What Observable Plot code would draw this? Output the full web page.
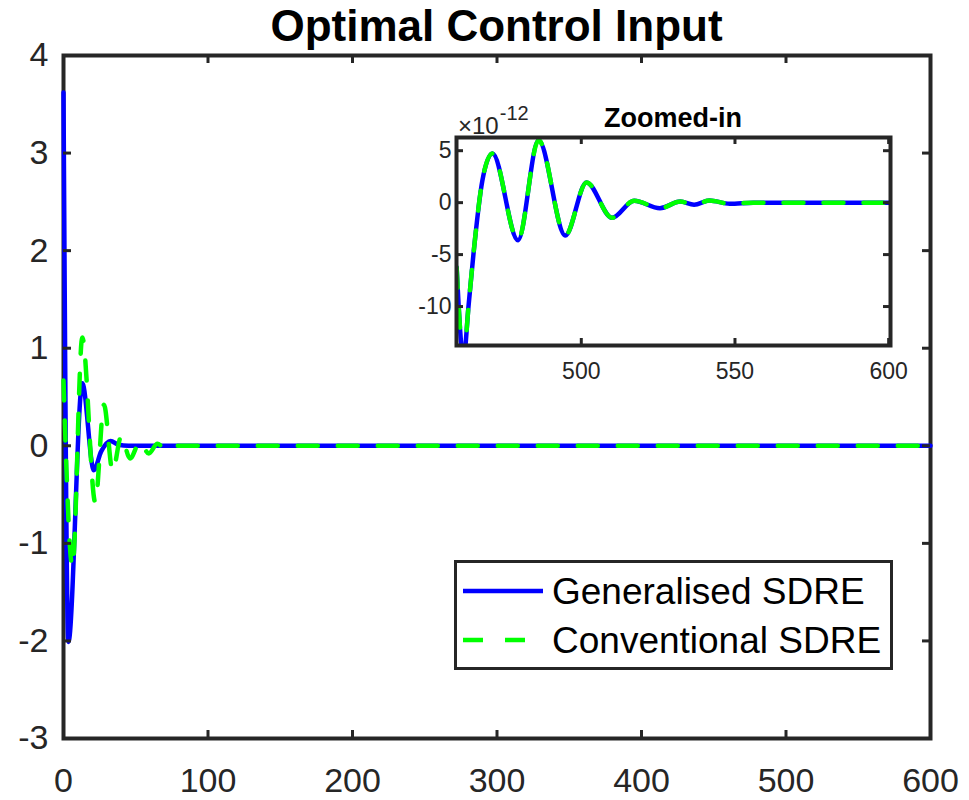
<!DOCTYPE html>
<html>
<head>
<meta charset="utf-8">
<script src="https://cdn.jsdelivr.net/npm/d3@7"></script>
<script src="https://cdn.jsdelivr.net/npm/@observablehq/plot@0.6"></script>
<style>
  html, body { margin: 0; padding: 0; background: #fff; }
  #wrap { position: relative; width: 969px; height: 800px; font-family: "Liberation Sans", Arial, Helvetica, sans-serif; color: #262626; overflow: hidden; }
  .abs { position: absolute; white-space: nowrap; line-height: 1; }
</style>
</head>
<body>
<div id="wrap"></div>
<script>
// ---------------- data ----------------
const titleText = "Optimal Control Input";
const insetTitleText = "Zoomed-in";
const seriesNames = ["Generalised SDRE", "Conventional SDRE"];
const seriesColors = ["#0000ff", "#00ff00"];

const xTicks = [0, 100, 200, 300, 400, 500, 600];
const yTicks = [-3, -2, -1, 0, 1, 2, 3, 4];

// Main plot: Generalised SDRE (blue, solid)
const genX = [0, 3.4, 13, 21, 26, 32.6, 38, 45, 600];
const genY = [3.62, -2.01, 0.64, -0.25, -0.06, 0.05, 0.01, 0, 0];

// Main plot: Conventional SDRE (green, dashed)
const convX = [0, 6.2, 13, 22, 28, 34, 40, 46, 53, 59, 65, 71, 78, 600];
const convY = [0.67, -1.24, 1.11, -0.58, 0.42, -0.26, 0.1, -0.13, 0.04, -0.08, 0.02, -0.04, 0, 0];

// Inset (values in units of 1e-12)
const insetExponent = -12;
const insetXTicks = [500, 550, 600];
const insetYTicks = [-10, -5, 0, 5];
const insetGenX = [459.45, 461.7, 463.3, 464.9, 467.8, 471.1, 479.4, 486.1, 494.8, 501.7, 510, 517.2, 525.6, 532.2, 536.7, 541.7, 548.3, 556, 600];
const insetGenY = [-6.25, -15, -10, -5, 2.1, 4.73, -3.62, 6.0, -3.16, 1.95, -1.46, 0.18, -0.53, 0.1, -0.2, 0.2, -0.1, 0, 0];
const insetConvX = [459.45, 461.7, 463.3, 464.9, 467.8, 471.1, 479.4, 486.1, 494.8, 501.7, 510, 517.2, 525.6, 532.2, 536.7, 541.7, 548.3, 556, 600];
const insetConvY = [-6.25, -15, -10, -5, 2.1, 4.73, -3.62, 6.0, -3.16, 1.95, -1.46, 0.18, -0.53, 0.1, -0.2, 0.2, -0.1, 0, 0];

// ---------------- build ----------------
const toRows = (xs, ys) => xs.map((x, i) => ({x, y: ys[i]}));
const gen = toRows(genX, genY);
const conv = toRows(convX, convY);
const iGen = toRows(insetGenX, insetGenY);
const iConv = toRows(insetConvX, insetConvY);

const ink = "#262626";
const font = '"Liberation Sans", Arial, Helvetica, sans-serif';
const fmt = d => String(d);

const W = 969, H = 800;
const mL = 63, mR = 39, mT = 55, mB = 62;
const fw = W - mL - mR, fh = H - mT - mB;
const tk = 8;

const main = Plot.plot({
  width: W, height: H,
  marginLeft: mL, marginRight: mR, marginTop: mT, marginBottom: mB,
  x: {domain: [0, 600]},
  y: {domain: [-3, 4]},
  style: {fontFamily: font, color: ink, background: "white", overflow: "visible"},
  marks: [
    Plot.frame({stroke: ink, strokeWidth: 4}),
    Plot.line(gen, {x: "x", y: "y", stroke: seriesColors[0], strokeWidth: 4.5, curve: "monotone-x"}),
    Plot.line(conv, {x: "x", y: "y", stroke: seriesColors[1], strokeWidth: 4.5, strokeDasharray: "20,20", curve: "monotone-x"}),
    Plot.tickX(xTicks, {x: d => d, insetTop: fh - tk, stroke: ink, strokeWidth: 3}),
    Plot.tickX(xTicks, {x: d => d, insetBottom: fh - tk, stroke: ink, strokeWidth: 3}),
    Plot.tickY(yTicks, {y: d => d, insetRight: fw - tk, stroke: ink, strokeWidth: 3}),
    Plot.tickY(yTicks, {y: d => d, insetLeft: fw - tk, stroke: ink, strokeWidth: 3}),
    Plot.axisX({ticks: xTicks, tickSize: 0, tickPadding: 29, fontSize: 34, tickFormat: fmt, label: null}),
    Plot.axisY({ticks: yTicks, tickSize: 0, tickPadding: 15, fontSize: 34, tickFormat: fmt, label: null})
  ]
});

// Inset
const iL = 456, iR = 890, iT = 137, iB = 345;
const imL = 60, imR = 20, imT = 10, imB = 40;
const ifw = iR - iL, ifh = iB - iT;
const itk = 7;
const inset = Plot.plot({
  width: ifw + imL + imR, height: ifh + imT + imB,
  marginLeft: imL, marginRight: imR, marginTop: imT, marginBottom: imB,
  x: {domain: [459.4, 600.6]},
  y: {domain: [-13.75, 6.27]},
  style: {fontFamily: font, color: ink, background: "transparent", overflow: "visible"},
  marks: [
    Plot.frame({fill: "white"}),
    Plot.line(iGen, {x: "x", y: "y", stroke: seriesColors[0], strokeWidth: 4.5, curve: "monotone-x", clip: true}),
    Plot.line(iConv, {x: "x", y: "y", stroke: seriesColors[1], strokeWidth: 4.5, strokeDasharray: "20,20", curve: "monotone-x", clip: true}),
    Plot.frame({stroke: ink, strokeWidth: 4}),
    Plot.tickX(insetXTicks, {x: d => d, insetTop: ifh - itk, stroke: ink, strokeWidth: 3}),
    Plot.tickX(insetXTicks, {x: d => d, insetBottom: ifh - itk, stroke: ink, strokeWidth: 3}),
    Plot.tickY(insetYTicks, {y: d => d, insetRight: ifw - itk, stroke: ink, strokeWidth: 3}),
    Plot.tickY(insetYTicks, {y: d => d, insetLeft: ifw - itk, stroke: ink, strokeWidth: 3}),
    Plot.axisX({ticks: insetXTicks, tickSize: 0, tickPadding: 17, fontSize: 23, tickFormat: fmt, label: null}),
    Plot.axisY({ticks: insetYTicks, tickSize: 0, tickPadding: 5, fontSize: 23, tickFormat: fmt, label: null})
  ]
});

const wrap = document.getElementById("wrap");
main.style.position = "absolute"; main.style.left = "0px"; main.style.top = "0px";
wrap.appendChild(main);
inset.style.position = "absolute";
inset.style.left = (iL - imL) + "px";
inset.style.top = (iT - imT) + "px";
wrap.appendChild(inset);

function addText(txt, opts) {
  const d = document.createElement("div");
  d.className = "abs";
  d.textContent = txt;
  Object.assign(d.style, opts);
  wrap.appendChild(d);
  return d;
}

// Title (centered over main frame)
addText(titleText, {fontSize: "44px", fontWeight: "bold", top: "4px", left: (mL + fw / 2) + "px", transform: "translateX(-50%)", color: "#000"});

// Inset title
addText(insetTitleText, {fontSize: "27px", fontWeight: "bold", top: "105px", left: ((iL + iR) / 2) + "px", transform: "translateX(-50%)", color: "#000"});

// Exponent label
const ex = addText("\u00d710", {fontSize: "24px", top: "114px", left: "458px"});
const sup = document.createElement("span");
sup.textContent = String(insetExponent);
Object.assign(sup.style, {fontSize: "20px", position: "relative", top: "-14px", marginLeft: "1px"});
ex.appendChild(sup);

// Legend
const lg = document.createElement("div");
Object.assign(lg.style, {position: "absolute", left: "454px", top: "560px", width: "439px", height: "110px", boxSizing: "border-box", border: "3px solid " + ink, background: "white"});
wrap.appendChild(lg);
const rowsY = [591, 640];
const lfs = 37;
seriesNames.forEach((name, i) => {
  const ns = "http://www.w3.org/2000/svg";
  const s = document.createElementNS(ns, "svg");
  s.setAttribute("width", 82); s.setAttribute("height", 10);
  Object.assign(s.style, {position: "absolute", left: "462px", top: (rowsY[i] - 5) + "px"});
  const l = document.createElementNS(ns, "line");
  l.setAttribute("x1", 1); l.setAttribute("x2", 81); l.setAttribute("y1", 5); l.setAttribute("y2", 5);
  l.setAttribute("stroke", seriesColors[i]); l.setAttribute("stroke-width", 4.5);
  if (i === 1) l.setAttribute("stroke-dasharray", "20,22");
  s.appendChild(l);
  wrap.appendChild(s);
  addText(name, {fontSize: lfs + "px", top: (rowsY[i] + 0.358 * lfs - 0.8465 * lfs) + "px", left: "552px", color: "#000"});
});
</script>
</body>
</html>
